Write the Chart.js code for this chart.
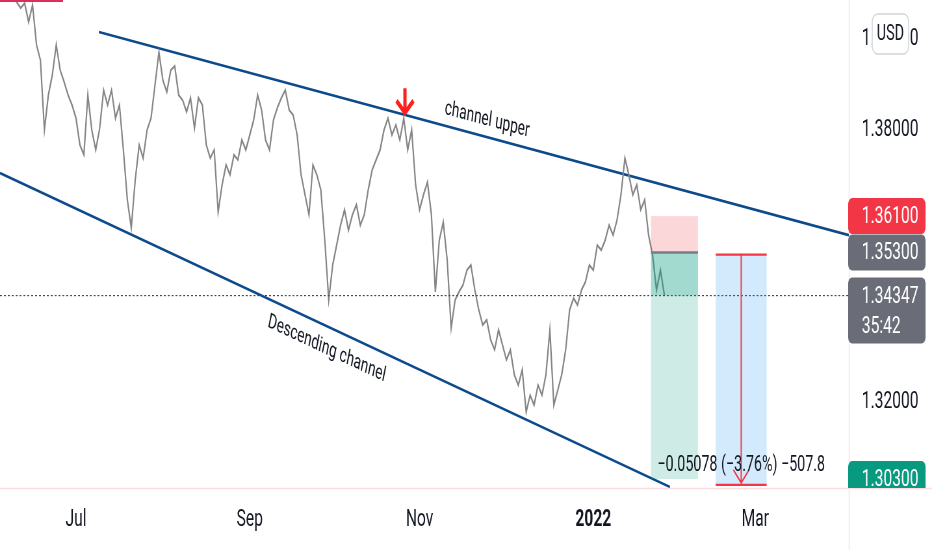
<!DOCTYPE html>
<html>
<head>
<meta charset="utf-8">
<script src="https://cdn.jsdelivr.net/npm/chart.js@4/dist/chart.umd.min.js"></script>
<style>
  html, body { margin: 0; padding: 0; background: #fff; overflow: hidden; }
  #chart { display: block; }
</style>
</head>
<body>
<canvas id="chart"></canvas>
<script>
// the screenshot is squeezed sideways, so draw wide and let css squeeze it back
const SQUEEZE = 0.65
const W = Math.round(932 / SQUEEZE)
const H = 550

// x is trading days counted from 1 Jul 2021
const firstDay = -19
const prices = [
  1.4120, 1.4131, 1.4109, 1.4098, 1.4082, 1.4069, 1.4080, 1.4038, 1.4076, 1.3988,
  1.3954, 1.3800, 1.3877, 1.3921, 1.3988, 1.3932, 1.3906, 1.3877, 1.3855, 1.3826,
  1.3767, 1.3745, 1.3877, 1.3800, 1.3756, 1.3804, 1.3888, 1.3855, 1.3888, 1.3826,
  1.3855, 1.3756, 1.3646, 1.3584, 1.3690, 1.3767, 1.3738, 1.3800, 1.3826, 1.3899,
  1.3972, 1.3910, 1.3884, 1.3932, 1.3941, 1.3877, 1.3866, 1.3840, 1.3871, 1.3804,
  1.3871, 1.3855, 1.3767, 1.3738, 1.3756, 1.3619, 1.3679, 1.3723, 1.3701, 1.3745,
  1.3734, 1.3778, 1.3756, 1.3789, 1.3822, 1.3877, 1.3844, 1.3778, 1.3756, 1.3822,
  1.3849, 1.3871, 1.3888, 1.3844, 1.3833, 1.3789, 1.3701, 1.3657, 1.3613, 1.3723,
  1.3701, 1.3668, 1.3557, 1.3425, 1.3502, 1.3546, 1.3590, 1.3624, 1.3579, 1.3613,
  1.3635, 1.3590, 1.3613, 1.3668, 1.3712, 1.3734, 1.3756, 1.3800, 1.3826, 1.3789,
  1.3811, 1.3778, 1.3826, 1.3756, 1.3800, 1.3679, 1.3624, 1.3657, 1.3685, 1.3613,
  1.3443, 1.3557, 1.3597, 1.3513, 1.3363, 1.3425, 1.3443, 1.3458, 1.3491, 1.3502,
  1.3447, 1.3403, 1.3370, 1.3381, 1.3337, 1.3315, 1.3359, 1.3326, 1.3293, 1.3315,
  1.3260, 1.3237, 1.3271, 1.3178, 1.3215, 1.3193, 1.3237, 1.3215, 1.3260, 1.3359,
  1.3193, 1.3226, 1.3260, 1.3315, 1.3403, 1.3429, 1.3414, 1.3447, 1.3465, 1.3502,
  1.3491, 1.3546, 1.3535, 1.3557, 1.3590, 1.3568, 1.3601, 1.3657, 1.3738, 1.3701,
  1.3657, 1.3679, 1.3624, 1.3646, 1.3568, 1.3524, 1.3447, 1.3491, 1.3436
]

const monthTicks = [0, 44, 87, 131, 172]
const monthLabels = ['Jul', 'Sep', 'Nov', '2022', 'Mar']
const priceTicks = [1.32, 1.34, 1.36, 1.38, 1.40]

const upperChannelX = [5.8, 195.7]
const upperChannelY = [1.4016, 1.3568]
const lowerChannelX = [-19.24, 150.4]
const lowerChannelY = [1.37051, 1.30125]

const stopPrice = 1.361
const entryPrice = 1.353
const targetPrice = 1.303
const lastPrice = 1.34347
const countdown = '35:42'
const positionX = [145.6, 157.5]

const measureX = [162, 174.9]
const measureY = [1.3525, 1.30172]
const measureText = '\u22120.05078 (\u22123.76%) \u2212507.8'

const arrowX = 83.3
const arrowY = [1.3892, 1.3838]
const upperLabel = { text: 'channel upper', x: 104.1, y: 1.3822 }
const lowerLabel = { text: 'Descending channel', x: 63.5, y: 1.3317 }

const FONT = 'Roboto, "Noto Sans", sans-serif'

const overlay = {
  id: 'overlay',
  afterDraw(chart) {
    const ctx = chart.ctx
    const ca = chart.chartArea
    const xs = chart.scales.x
    const ys = chart.scales.y
    const px = v => xs.getPixelForValue(v)
    const py = v => ys.getPixelForValue(v)

    ctx.save()

    // pane borders
    ctx.strokeStyle = 'rgba(242, 54, 69, 0.16)'
    ctx.lineWidth = 1.5
    ctx.beginPath()
    ctx.moveTo(0, ca.bottom + 0.5)
    ctx.lineTo(W, ca.bottom + 0.5)
    ctx.moveTo(ca.right + 0.5, 0)
    ctx.lineTo(ca.right + 0.5, H)
    ctx.stroke()

    ctx.save()
    ctx.beginPath()
    ctx.rect(ca.left, ca.top, ca.right - ca.left, ca.bottom - ca.top)
    ctx.clip()

    // last price dotted line
    ctx.strokeStyle = '#4a4a4a'
    ctx.lineWidth = 1.2
    ctx.setLineDash([3, 3])
    ctx.beginPath()
    ctx.moveTo(ca.left, py(lastPrice))
    ctx.lineTo(ca.right, py(lastPrice))
    ctx.stroke()
    ctx.setLineDash([])

    // short position tool
    const bx0 = px(positionX[0])
    const bw = px(positionX[1]) - bx0
    ctx.fillStyle = 'rgba(242, 54, 69, 0.2)'
    ctx.fillRect(bx0, py(stopPrice), bw, py(entryPrice) - py(stopPrice))
    ctx.fillStyle = 'rgba(8, 153, 129, 0.2)'
    ctx.fillRect(bx0, py(entryPrice), bw, py(targetPrice) - py(entryPrice))
    ctx.fillStyle = 'rgba(8, 153, 129, 0.22)'
    ctx.fillRect(bx0, py(entryPrice), bw, py(lastPrice) - py(entryPrice))
    ctx.strokeStyle = '#787b86'
    ctx.lineWidth = 2.5
    ctx.beginPath()
    ctx.moveTo(bx0, py(entryPrice))
    ctx.lineTo(bx0 + bw, py(entryPrice))
    ctx.stroke()

    // price range measure
    const mx0 = px(measureX[0])
    const mx1 = px(measureX[1])
    const mxc = (mx0 + mx1) / 2
    const my0 = py(measureY[0])
    const my1 = py(measureY[1])
    ctx.fillStyle = 'rgba(33, 150, 243, 0.2)'
    ctx.fillRect(mx0, my0, mx1 - mx0, my1 - my0)
    ctx.strokeStyle = '#f23645'
    ctx.lineWidth = 2.2
    ctx.beginPath()
    ctx.moveTo(mx0, my0)
    ctx.lineTo(mx1, my0)
    ctx.moveTo(mx0, my1)
    ctx.lineTo(mx1, my1)
    ctx.stroke()
    ctx.lineWidth = 2
    ctx.beginPath()
    ctx.moveTo(mxc, my0)
    ctx.lineTo(mxc, my1)
    ctx.moveTo(mxc - 12, my1 - 15)
    ctx.lineTo(mxc, my1 - 2)
    ctx.lineTo(mxc + 12, my1 - 15)
    ctx.stroke()
    ctx.fillStyle = '#131722'
    ctx.font = '22px ' + FONT
    ctx.textAlign = 'center'
    ctx.textBaseline = 'middle'
    ctx.fillText(measureText, mxc, my1 - 19)

    // red arrow at the touch
    const ax = px(arrowX)
    const ay0 = py(arrowY[0])
    const ay1 = py(arrowY[1])
    ctx.strokeStyle = '#ff1f1f'
    ctx.lineWidth = 5
    ctx.lineJoin = 'miter'
    ctx.beginPath()
    ctx.moveTo(ax, ay0)
    ctx.lineTo(ax, ay1 - 3)
    ctx.moveTo(ax - 13, ay1 - 12)
    ctx.lineTo(ax, ay1)
    ctx.lineTo(ax + 13, ay1 - 12)
    ctx.stroke()

    // channel captions follow the lines
    const slope = (xa, ya) => Math.atan2(py(ya[1]) - py(ya[0]), px(xa[1]) - px(xa[0]))
    ctx.fillStyle = '#131722'
    ctx.font = '21px ' + FONT
    const caption = (lbl, ang) => {
      ctx.save()
      ctx.translate(px(lbl.x), py(lbl.y))
      ctx.rotate(ang)
      ctx.fillText(lbl.text, 0, 0)
      ctx.restore()
    }
    caption(upperLabel, slope(upperChannelX, upperChannelY))
    caption(lowerLabel, slope(lowerChannelX, lowerChannelY))

    ctx.restore()

    // stray drawing peeking in at the top left
    ctx.fillStyle = '#e02d5b'
    ctx.fillRect(0, 0, 97, 2)

    // price tags on the axis
    ctx.save()
    ctx.beginPath()
    ctx.rect(ca.right - 2, 0, W - ca.right + 2, ca.bottom)
    ctx.clip()
    const tag = (value, fill, lines) => {
      const cy = py(value)
      const h = 36 + (lines.length - 1) * 30
      ctx.fillStyle = fill
      ctx.beginPath()
      ctx.roundRect(ca.right - 1, cy - 18, W - 9 - ca.right, h, 6)
      ctx.fill()
      ctx.fillStyle = '#ffffff'
      ctx.font = '24px ' + FONT
      ctx.textAlign = 'left'
      ctx.textBaseline = 'middle'
      lines.forEach((t, i) => ctx.fillText(t, ca.right + 20, cy + i * 30 + 1))
    }
    tag(stopPrice, '#f23645', [stopPrice.toFixed(5)])
    tag(entryPrice, '#6a6d78', [entryPrice.toFixed(5)])
    tag(lastPrice, '#6a6d78', [lastPrice.toFixed(5), countdown])
    tag(targetPrice, '#089981', [targetPrice.toFixed(5)])
    ctx.restore()

    // currency button
    ctx.fillStyle = '#ffffff'
    ctx.strokeStyle = '#d1d4dc'
    ctx.lineWidth = 1.5
    ctx.beginPath()
    ctx.roundRect(1342, 14, 56, 40, 8)
    ctx.fill()
    ctx.stroke()
    ctx.fillStyle = '#131722'
    ctx.font = '22px ' + FONT
    ctx.textAlign = 'center'
    ctx.textBaseline = 'middle'
    ctx.fillText('USD', 1370, 34)

    ctx.restore()
  }
}

const canvas = document.getElementById('chart')
canvas.width = W
canvas.height = H
// inline size so Chart.js keeps it and the browser squeezes the drawing
canvas.style.width = '932px'
canvas.style.height = '550px'

const toPoints = (xs, ys) => xs.map((v, i) => ({ x: v, y: ys[i] }))

new Chart(canvas, {
  type: 'line',
  data: {
    datasets: [
      {
        data: prices.map((p, i) => ({ x: firstDay + i, y: p })),
        borderColor: '#858585',
        borderWidth: 2.2,
        pointRadius: 0,
        tension: 0
      },
      {
        data: toPoints(upperChannelX, upperChannelY),
        borderColor: '#0d4a8c',
        borderWidth: 2.6,
        pointRadius: 0
      },
      {
        data: toPoints(lowerChannelX, lowerChannelY),
        borderColor: '#0d4a8c',
        borderWidth: 2.6,
        pointRadius: 0
      }
    ]
  },
  options: {
    responsive: false,
    animation: false,
    events: [],
    layout: { padding: 0 },
    plugins: {
      legend: { display: false },
      tooltip: { enabled: false }
    },
    scales: {
      x: {
        type: 'linear',
        min: -19.24,
        max: 195.7,
        grid: { display: false, drawTicks: false },
        border: { display: false },
        afterBuildTicks: (s) => { s.ticks = monthTicks.map(v => ({ value: v })) },
        afterFit: (s) => {
          s.height = 62
          s.paddingLeft = 0
          s.paddingRight = 0
        },
        ticks: {
          autoSkip: false,
          maxRotation: 0,
          padding: 18,
          color: '#131722',
          font: (c) => ({
            family: FONT,
            size: 24,
            weight: c.tick && c.tick.value === 131 ? 'bold' : 'normal'
          }),
          callback: (v) => monthLabels[monthTicks.indexOf(v)]
        }
      },
      y: {
        type: 'linear',
        position: 'right',
        min: 1.30102,
        max: 1.40868,
        grid: { display: false, drawTicks: false },
        border: { display: false },
        afterBuildTicks: (s) => { s.ticks = priceTicks.map(v => ({ value: v })) },
        afterFit: (s) => {
          s.width = W - Math.round(849 / SQUEEZE)
          s.paddingTop = 0
          s.paddingBottom = 0
        },
        ticks: {
          padding: 20,
          color: '#131722',
          font: { family: FONT, size: 24 },
          callback: (v) => v.toFixed(5)
        }
      }
    }
  },
  plugins: [overlay]
})
</script>
</body>
</html>
